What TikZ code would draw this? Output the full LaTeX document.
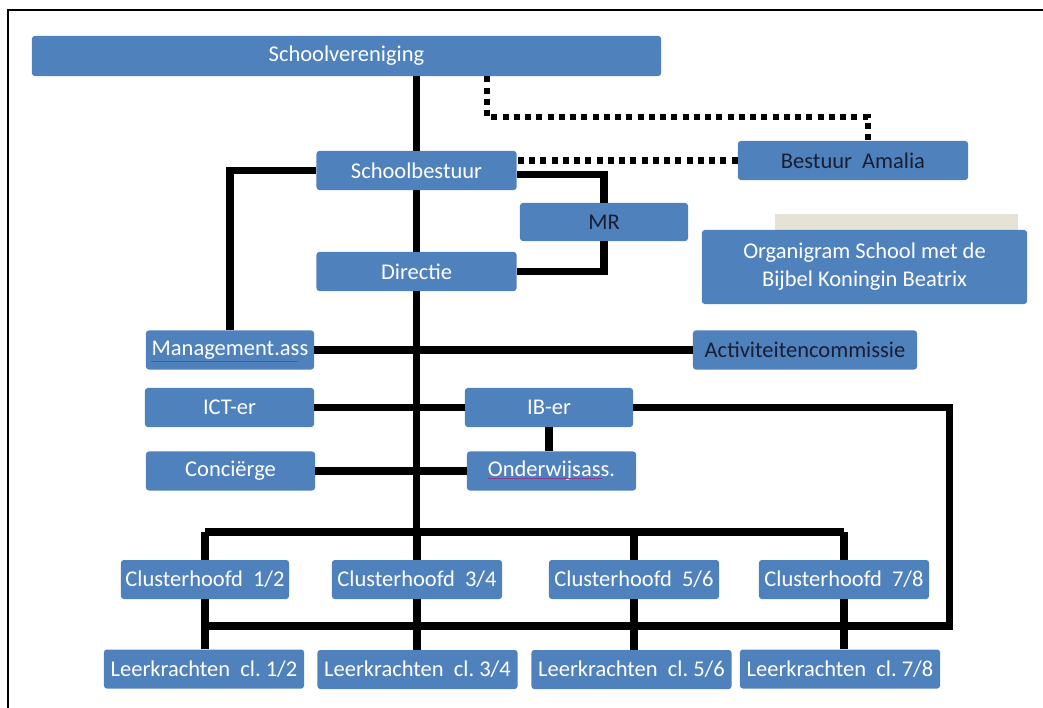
\documentclass[tikz,border=0pt]{standalone}
\usepackage{fontspec}
\setmainfont{Carlito}
\definecolor{boxblue}{RGB}{79,129,189}
\definecolor{darktext}{RGB}{25,30,50}
\definecolor{shadowgray}{RGB}{230,226,214}
\definecolor{spellred}{RGB}{140,60,140}
\tikzset{
  box/.style={fill=boxblue, rounded corners=2pt, inner sep=0pt,
    minimum height=0.975cm, text=white, align=center,
    font=\fontsize{16}{20}\selectfont},
  darkbox/.style={box, text=darktext},
  link/.style={line width=5pt},
  dotlink/.style={line width=4.3pt, dash pattern=on 4.3pt off 3.7pt},
  squiggle/.style={spellred, line width=0.7pt}
}
\begin{document}
\begin{tikzpicture}[x=0.025cm, y=-0.025cm]
    \useasboundingbox (0, 0) rectangle (1043, 708);
    \draw [line width=1.4pt] (8, 708) -- (8, 10) -- (1043, 10);

    \node [box, minimum width=15.725cm, minimum height=1cm] (verenig) at (346.5, 56) {Schoolvereniging};
    \node [box, minimum width=5cm] (bestuur) at (416.5, 170.5) {Schoolbestuur};
    \node [box, minimum width=5cm] (directie) at (416.5, 271.5) {Directie};
    \node [darkbox, minimum width=4.2cm, minimum height=0.95cm] (mr) at (604, 222) {MR};
    \node [darkbox, minimum width=5.75cm] (amalia) at (853, 160.5) {Bestuur\ \ Amalia};
    \fill [shadowgray] (775, 214) rectangle (1018, 231);
    \node [box, minimum width=8.125cm, minimum height=1.85cm] (organigram) at (864.5, 267) {Organigram School met de\\Bijbel Koningin Beatrix};

    \node [box, minimum width=4.2cm] (mgmt) at (230, 350) {Management.ass};
    \node [darkbox, minimum width=5.6cm] (activ) at (805, 350) {Activiteitencommissie};
    \node [box, minimum width=4.225cm] (ict) at (229.5, 407.5) {ICT-er};
    \node [box, minimum width=4.2cm] (iber) at (549, 407.5) {IB-er};
    \node [box, minimum width=4.225cm] (conc) at (230.5, 471) {Conciërge};
    \node [box, minimum width=4.225cm] (ondw) at (551.5, 471) {Onderwijsass.};

    \node [box, minimum width=4.2cm] (ch1) at (205, 579.5) {Clusterhoofd\ \ 1/2};
    \node [box, minimum width=4.25cm] (ch2) at (417, 579.5) {Clusterhoofd\ \ 3/4};
    \node [box, minimum width=4.25cm] (ch3) at (634, 579.5) {Clusterhoofd\ \ 5/6};
    \node [box, minimum width=4.25cm] (ch4) at (844, 579.5) {Clusterhoofd\ \ 7/8};
    \node [box, minimum width=5cm] (lk1) at (204, 669) {Leerkrachten\ \ cl.\ 1/2};
    \node [box, minimum width=5cm] (lk2) at (417.5, 669.5) {Leerkrachten\ \ cl.\ 3/4};
    \node [box, minimum width=5cm] (lk3) at (631.5, 669.5) {Leerkrachten\ \ cl.\ 5/6};
    \node [box, minimum width=5cm] (lk4) at (840, 669) {Leerkrachten\ \ cl.\ 7/8};

    \coordinate (dotleft) at (487, 117);
    \coordinate (dotright) at (868, 117);
    \coordinate (bar) at (416, 532);
    \coordinate (rbar) at (949, 626);

    \draw [dotlink] (verenig.south -| dotleft) -- (dotleft) -- (dotright) -- (dotright |- amalia.north);
    \draw [dotlink] (amalia.west) -- (amalia.west -| bestuur.east);

    \draw [link] (verenig.south -| bestuur) -- (bestuur.north);
    \draw [link] (bestuur.south) -- (directie.north);
    \draw [link] (directie.south) -- (directie.south |- bar);
    \draw [link] ([yshift=-3pt]bestuur.east) -| (mr.north);
    \draw [link] (mr.south) |- (directie.east);
    \draw [link] (bestuur.west) -| (mgmt.north);
    \draw [link] (mgmt.east) -- (activ.west);
    \draw [link] (ict.east) -- (iber.west);
    \draw [link] (conc.east) -- (ondw.west);
    \draw [link] (iber.south) -- (iber.south |- ondw.north);
    \draw [link] (iber.east) -| (rbar) -- (rbar -| ch1.south);

    \draw [link] (ch1.north |- bar) -- (ch4.north |- bar);
    \draw [link] (ch1.north) -- (ch1.north |- bar);
    \draw [link] (ch2.north) -- (ch2.north |- bar);
    \draw [link] (ch3.north) -- (ch3.north |- bar);
    \draw [link] (ch4.north) -- (ch4.north |- bar);
    \draw [link] (ch1.south) -- (ch1.south |- lk1.north);
    \draw [link] (ch2.south) -- (ch2.south |- lk2.north);
    \draw [link] (ch3.south) -- (ch3.south |- lk3.north);
    \draw [link] (ch4.south) -- (ch4.south |- lk4.north);

    \draw [squiggle] (151, 361) -- (298, 361);
    \draw [squiggle] (488, 478) -- (602, 478);
  \end{tikzpicture}
\end{document}
